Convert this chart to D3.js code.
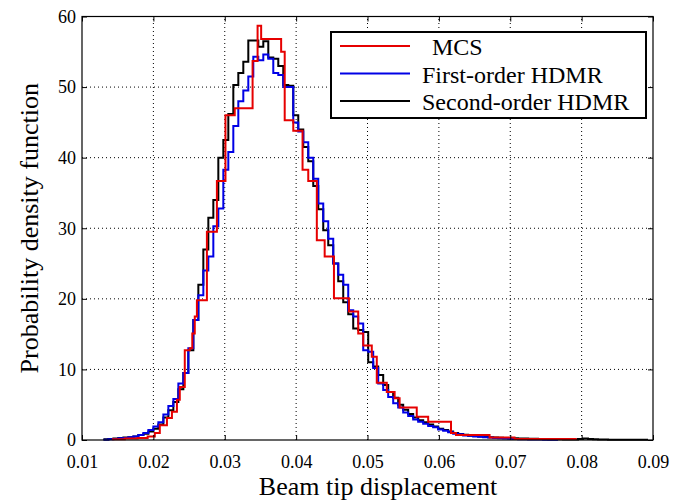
<!DOCTYPE html>
<html>
<head>
<meta charset="utf-8">
<script src="https://cdn.jsdelivr.net/npm/d3@7"></script>
<style>
  body { margin: 0; background: #fff; }
  svg, svg text { font-family: 'Liberation Serif', 'Times New Roman', Times, 'DejaVu Serif', serif; }
</style>
</head>
<body>
<svg id="chart" width="683" height="500"></svg>
<script>
// tick values
const xTicks = [0.01, 0.02, 0.03, 0.04, 0.05, 0.06, 0.07, 0.08, 0.09];
const yTicks = [0, 10, 20, 30, 40, 50, 60];

// HDMR histograms share one bin grid
const binStart = 0.013;
const binWidth = 0.0007;

const secondOrder = [
  0.1, 0.15, 0.2, 0.3, 0.35, 0.4, 0.5, 0.7, 0.9, 1.2,
  1.6, 2.2, 3.2, 4.2, 5.4, 7.2, 9.5, 12.7, 17, 22,
  27, 31.5, 34, 40, 42.5, 46.2, 50.3, 52, 53.6, 56.6,
  56.6, 55.7, 56.5, 54.2, 54, 53, 50.3, 50.2, 46, 44,
  41.5, 39.5, 36, 32.7, 29.7, 27.6, 25, 22.5, 19.5, 17.8,
  15.8, 15.6, 15.3, 11, 10.4, 9.2, 7.8, 6.8, 6, 5,
  4.3, 3.7, 3.2, 2.8, 2.5, 2.2, 1.9, 1.6, 1.4, 1.2,
  1.0, 0.85, 0.75, 0.6, 0.55, 0.5, 0.45, 0.4, 0.35, 0.32,
  0.3, 0.27, 0.24, 0.22, 0.2, 0.18, 0.16, 0.15, 0.13, 0.12,
  0.1, 0.1, 0.08, 0.08, 0.07, 0.15, 0.2, 0.15, 0.1, 0.08,
  0.06, 0.05, 0.05, 0.04, 0.04, 0.03, 0.03, 0.02, 0.02
];

const firstOrder = [
  0.05, 0.1, 0.15, 0.25, 0.3, 0.4, 0.5, 0.7, 1.0, 1.4,
  1.9, 2.5, 3.6, 4.8, 5.8, 8, 9.5, 13, 17, 20.5,
  24, 26, 30.3, 32.8, 38.3, 40.8, 44.5, 48, 49.5, 51.5,
  54.3, 53.8, 54.6, 54, 52, 51.7, 50, 50, 45, 43.7,
  42.2, 40, 37, 33.5, 31, 28.5, 25, 23.4, 22, 18.4,
  17.5, 16.5, 12.7, 12.5, 10.2, 8, 7.1, 6.1, 5.2, 4.6,
  3.9, 3.4, 2.9, 2.6, 2.3, 2.0, 1.8, 1.5, 1.3, 1.1,
  0.9, 0.8, 0.65, 0.6, 0.5, 0.45, 0.4, 0.35, 0.3, 0.25,
  0.2, 0.18, 0.15, 0.12, 0.1, 0.08, 0.07, 0.06, 0.05, 0.04,
  0.03
];

// MCS histogram: left bin edges, heights, last right edge
const mcsEdges = [
  0.0142, 0.0160, 0.0178, 0.0192, 0.0202, 0.0209, 0.0219, 0.0226, 0.0233, 0.0237,
  0.0244, 0.0251, 0.02545, 0.0258, 0.0261, 0.0275, 0.0289, 0.0301, 0.0314, 0.0339,
  0.0346, 0.0351, 0.0379, 0.0384, 0.0396, 0.0409, 0.0417, 0.0429, 0.0440, 0.0453,
  0.0474, 0.0487, 0.0494, 0.0506, 0.0513, 0.0527, 0.0538, 0.0545, 0.0569, 0.0585,
  0.0617, 0.0624, 0.0671, 0.0706
];
const mcsDens = [
  0.1, 0.2, 0.3, 0.5, 1.0, 2.1, 3.1, 4.0, 5.7, 7.5,
  12.7, 13.0, 15.1, 17.5, 19.8, 29.5, 36.7, 46.0, 47.0, 53.7,
  58.7, 56.8, 55.0, 45.3, 43.8, 38.3, 36.7, 28.3, 26.0, 20.1,
  18.2, 15.1, 13.4, 11.8, 8.1, 6.8, 5.9, 4.6, 3.3, 2.6,
  1.0, 0.7, 0.35, 0.15
];
const mcsEnd = 0.0793;

const seriesNames = ['MCS', 'First-order HDMR', 'Second-order HDMR'];
const seriesColors = ['#e60000', '#0000e6', '#000000'];

const FONT = "'Liberation Serif', 'Times New Roman', Times, 'DejaVu Serif', serif";

const svg = d3.select('#chart');
const margin = { left: 82, right: 30, top: 16.5, bottom: 60 };
const W = 683, H = 500;

const x = d3.scaleLinear().domain([0.01, 0.09]).range([margin.left, W - margin.right]);
const y = d3.scaleLinear().domain([0, 60]).range([H - margin.bottom, margin.top]);

// grid
const grid = svg.append('g')
  .attr('stroke', '#000')
  .attr('stroke-width', 1)
  .attr('stroke-dasharray', '1,3');
grid.selectAll('.gx').data(xTicks.slice(1, -1)).enter().append('line')
  .attr('x1', d => x(d)).attr('x2', d => x(d))
  .attr('y1', y(0)).attr('y2', y(60));
grid.selectAll('.gy').data(yTicks.slice(1, -1)).enter().append('line')
  .attr('x1', x(0.01)).attr('x2', x(0.09))
  .attr('y1', d => y(d)).attr('y2', d => y(d));

// stairs helpers
function uniformPoints(vals) {
  const pts = vals.map((v, i) => [binStart + i * binWidth, v]);
  pts.push([binStart + vals.length * binWidth, vals[vals.length - 1]]);
  return pts;
}
const mcsPoints = mcsEdges.map((e, i) => [e, mcsDens[i]]);
mcsPoints.push([mcsEnd, mcsDens[mcsDens.length - 1]]);

const stairs = d3.line()
  .x(d => x(d[0]))
  .y(d => y(d[1]))
  .curve(d3.curveStepAfter);

const drawOrder = [
  { pts: uniformPoints(secondOrder), color: seriesColors[2] },
  { pts: uniformPoints(firstOrder), color: seriesColors[1] },
  { pts: mcsPoints, color: seriesColors[0] }
];

svg.append('g').selectAll('path').data(drawOrder).enter().append('path')
  .attr('d', d => stairs(d.pts))
  .attr('fill', 'none')
  .attr('stroke', d => d.color)
  .attr('stroke-width', 2)
  .attr('stroke-linejoin', 'miter');

// axes, ticks pointing inward
const fmtX = d3.format('.2f');
svg.append('g')
  .attr('transform', `translate(0,${y(0)})`)
  .call(d3.axisBottom(x).tickValues(xTicks).tickFormat(fmtX).tickSize(-5).tickPadding(15))
  .call(g => g.select('.domain').remove());
svg.append('g')
  .attr('transform', `translate(${x(0.01)},0)`)
  .call(d3.axisLeft(y).tickValues(yTicks).tickSize(-5).tickPadding(6))
  .call(g => g.select('.domain').remove());
svg.append('g')
  .attr('transform', `translate(0,${y(60)})`)
  .call(d3.axisTop(x).tickValues(xTicks).tickFormat('').tickSize(-5))
  .call(g => g.select('.domain').remove());
svg.append('g')
  .attr('transform', `translate(${x(0.09)},0)`)
  .call(d3.axisRight(y).tickValues(yTicks).tickFormat('').tickSize(-5))
  .call(g => g.select('.domain').remove());

svg.selectAll('.tick text')
  .attr('font-family', FONT)
  .attr('font-size', 18)
  .attr('fill', '#000');
svg.selectAll('.tick line').attr('stroke', '#000');

// frame
svg.append('rect')
  .attr('x', x(0.01)).attr('y', y(60))
  .attr('width', x(0.09) - x(0.01)).attr('height', y(0) - y(60))
  .attr('fill', 'none').attr('stroke', '#000').attr('stroke-width', 1.2);

// axis titles
svg.append('text')
  .attr('x', 378)
  .attr('y', 495)
  .attr('text-anchor', 'middle')
  .attr('font-family', FONT)
  .attr('font-size', 26)
  .text('Beam tip displacement');
svg.append('text')
  .attr('transform', `translate(38,${(y(0) + y(60)) / 2}) rotate(-90)`)
  .attr('text-anchor', 'middle')
  .attr('font-family', FONT)
  .attr('font-size', 26)
  .text('Probability density function');

// legend
const legend = svg.append('g');
legend.append('rect')
  .attr('x', 331).attr('y', 32).attr('width', 315).attr('height', 86)
  .attr('fill', '#fff').attr('stroke', '#000').attr('stroke-width', 2);
const rows = legend.selectAll('.row').data(seriesNames).enter().append('g')
  .attr('transform', (d, i) => `translate(0,${46 + i * 27.5})`);
rows.append('line')
  .attr('x1', 340).attr('x2', 410)
  .attr('stroke', (d, i) => seriesColors[i]).attr('stroke-width', 2);
rows.append('text')
  .attr('x', (d, i) => i === 0 ? 432 : 422)
  .attr('y', 9)
  .attr('font-family', FONT)
  .attr('font-size', 24)
  .text(d => d);
</script>
</body>
</html>
